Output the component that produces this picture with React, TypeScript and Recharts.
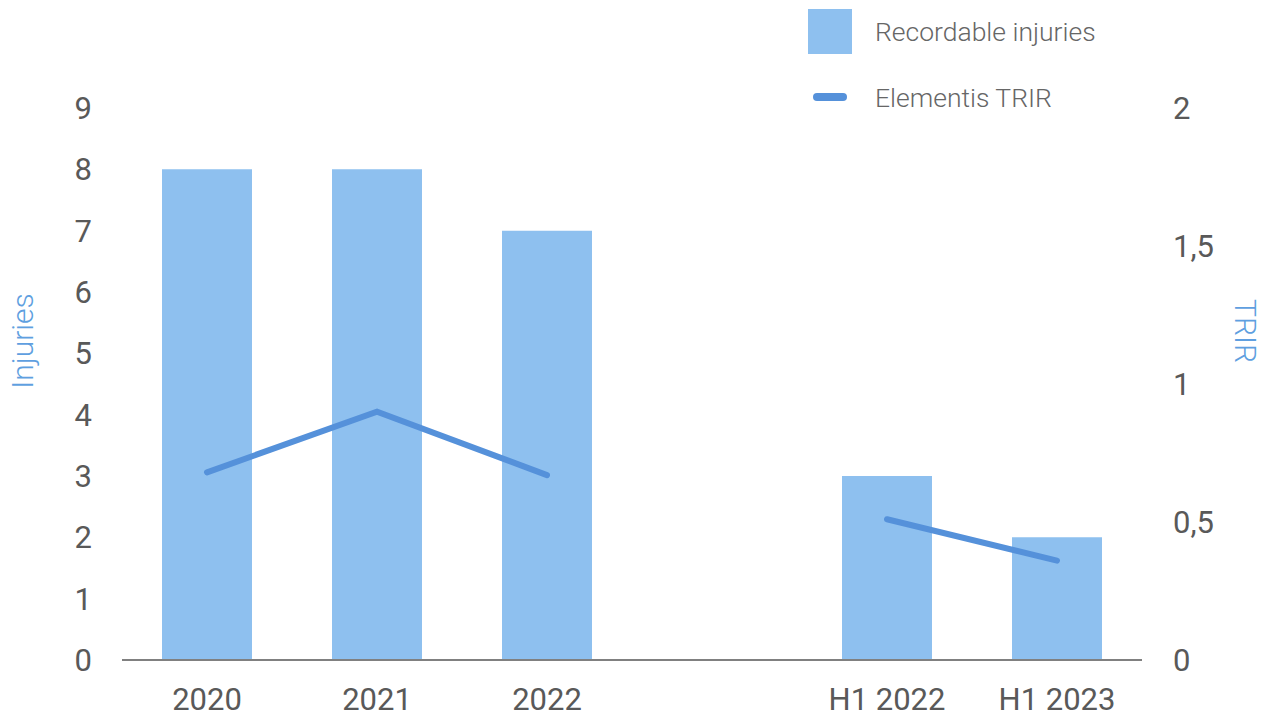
import React from 'react';
import { ComposedChart, Bar, Line, XAxis, YAxis, Legend } from 'recharts';

const categories = ['2020', '2021', '2022', '', 'H1 2022', 'H1 2023'];
const injuries = [8, 8, 7, null, 3, 2];
const trir = [0.68, 0.9, 0.67, null, 0.51, 0.36];
const leftTicks = [0, 1, 2, 3, 4, 5, 6, 7, 8, 9];
const rightTicks = [0, 0.5, 1, 1.5, 2];

const data = categories.map((c, i) => ({ name: c, injuries: injuries[i], trir: trir[i] }));

const BAR = '#8ec0ef';
const LINE = '#5591da';
const TEXT = '#595959';
const TITLE = '#5f9fe0';
const FONT = 'Roboto, "Liberation Sans", sans-serif';

const LegendContent = () => (
  <div style={{ fontFamily: FONT, fontSize: 26.5, color: '#666', fontWeight: 300 }}>
    <div style={{ display: 'flex', alignItems: 'center', height: 46 }}>
      <div style={{ width: 44, height: 45, background: BAR, marginRight: 23 }} />
      <span>Recordable injuries</span>
    </div>
    <div style={{ display: 'flex', alignItems: 'center', height: 40, marginTop: 23 }}>
      <div style={{ width: 34, height: 8, borderRadius: 4, background: LINE, marginLeft: 5, marginRight: 28 }} />
      <span>Elementis TRIR</span>
    </div>
  </div>
);

const LeftTitle = (props: any) => {
  const vb = props.viewBox || {};
  const x = (vb.x || 0) + 22;
  const y = (vb.y || 0) + (vb.height || 0) / 2 - 43;
  return (
    <text x={x} y={y} transform={`rotate(-90, ${x}, ${y})`} textAnchor="middle" dominantBaseline="central"
      fill={TITLE} fontSize={30} fontWeight={300} fontFamily={FONT}>Injuries</text>
  );
};

const RightTitle = (props: any) => {
  const vb = props.viewBox || {};
  const x = (vb.x || 0) + 103;
  const y = (vb.y || 0) + (vb.height || 0) / 2 - 53;
  return (
    <text x={x} y={y} transform={`rotate(90, ${x}, ${y})`} textAnchor="middle" dominantBaseline="central"
      fill={TITLE} fontSize={30} fontWeight={300} fontFamily={FONT}>TRIR</text>
  );
};

const fmtRight = (v: number) => String(v).replace('.', ',');

export default function App() {
  return (
    <div style={{ position: 'absolute', left: 0, top: 0, background: '#fff' }}>
      <ComposedChart width={1263} height={717} data={data} margin={{ top: 108, right: 0, bottom: 0, left: 0 }}>
        <XAxis dataKey="name" height={57} axisLine={{ stroke: '#808080', strokeWidth: 2 }} tickLine={false}
          tick={{ fill: TEXT, fontSize: 31, fontFamily: FONT }} tickMargin={22} interval={0} />
        <YAxis yAxisId="left" orientation="left" width={122} domain={[0, 9]} ticks={leftTicks} axisLine={false} tickLine={false}
          tick={{ fill: TEXT, fontSize: 31, fontFamily: FONT }} tickMargin={24} label={<LeftTitle />} />
        <YAxis yAxisId="right" orientation="right" width={121} domain={[0, 2]} ticks={rightTicks} axisLine={false} tickLine={false}
          tickFormatter={fmtRight} tick={{ fill: TEXT, fontSize: 31, fontFamily: FONT, textAnchor: 'start' }} tickMargin={25} label={<RightTitle />} />
        <Legend content={<LegendContent />} verticalAlign="top"
          wrapperStyle={{ position: 'absolute', left: 808, top: 8, width: 420, height: 0, overflow: 'visible' }} />
        <Bar yAxisId="left" dataKey="injuries" fill={BAR} barSize={90} isAnimationActive={false} />
        <Line yAxisId="right" dataKey="trir" stroke={LINE} strokeWidth={6} strokeLinecap="round" dot={false}
          activeDot={false} connectNulls={false} isAnimationActive={false} />
      </ComposedChart>
    </div>
  );
}
